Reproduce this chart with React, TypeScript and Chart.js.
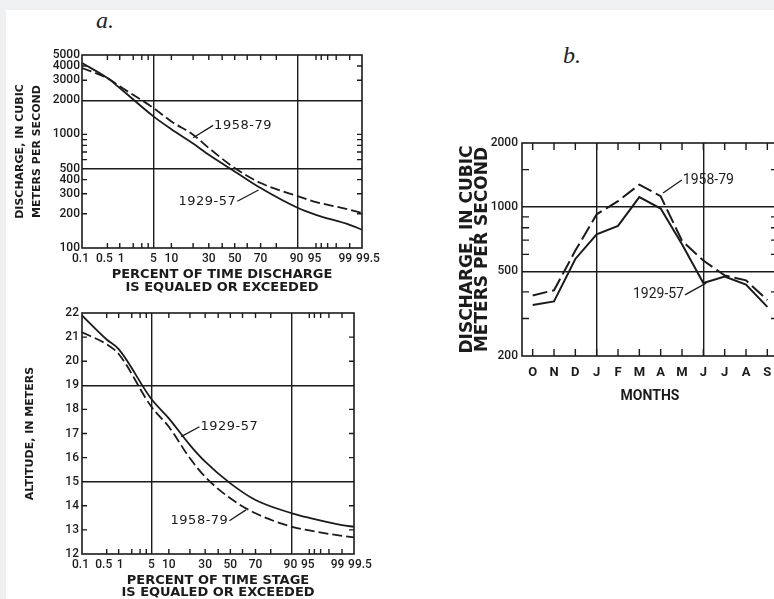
import React, { useEffect, useRef } from 'react';
import { Chart, Scale, registerables } from 'chart.js';

Chart.register(...registerables);

// ---------------- data ----------------
const durationPct = [0.1, 0.5, 1, 5, 10, 20, 30, 50, 70, 90, 95, 99, 99.5];
const discharge1929_57 = [4250, 3130, 2560, 1440, 1110, 830, 662, 472, 337, 225, 196, 160, 145];
const discharge1958_79 = [3840, 3130, 2650, 1710, 1300, 994, 759, 506, 373, 285, 254, 217, 203];
const stage1929_57 = [21.9, 20.9, 20.5, 18.43, 17.63, 16.52, 15.83, 14.93, 14.24, 13.69, 13.5, 13.2, 13.13];
const stage1958_79 = [21.2, 20.7, 20.3, 18.11, 17.28, 15.97, 15.2, 14.31, 13.69, 13.13, 12.98, 12.75, 12.69];
const months = ['O', 'N', 'D', 'J', 'F', 'M', 'A', 'M', 'J', 'J', 'A', 'S'];
const monthly1929_57 = [347, 361, 571, 746, 816, 1115, 985, 670, 440, 472, 433, 340];
const monthly1958_79 = [385, 407, 625, 925, 1067, 1276, 1125, 695, 561, 478, 453, 366];

const pctTickLabels = [0.1, 0.5, 1, 5, 10, 30, 50, 70, 90, 95, 99, 99.5];
// label text per tick (spaces nudge crowded labels apart, as in the original print)
const pctTickText: Record<string, string> = { '0.1': '0.1 ', '0.5': '0.5  ', '1': ' 1', '90': '90 ', '95': '95 ', '99': '99   ', '99.5': '    99.5' };
const pctMinorTicks = [0.5, 1, 2, 3, 4, 10, 20, 30, 40, 50, 60, 70, 80, 95, 96, 97, 98, 99];
const pctGridLines = [5, 90];
const dischargeTickLabels = [100, 200, 300, 400, 500, 1000, 2000, 3000, 4000, 5000];
const dischargeMinorTicks = [200, 300, 400, 600, 700, 800, 900, 1000, 3000, 4000];
const dischargeGridLines = [500, 2000];
const altitudeTickLabels = [12, 13, 14, 15, 16, 17, 18, 19, 20, 21, 22];
const altitudeMinorTicks = [13, 14, 16, 17, 18, 20, 21];
const altitudeGridLines = [15, 19];
const monthlyTickLabels = [200, 500, 1000, 2000];
const monthlyMinorTicks = [300, 400, 600, 700, 800, 900, 1500];
const monthlyGridLines = [500, 1000];
const monthGridIndex = [3, 8];

const dischargeNotes = [
  { text: '1958-79', x: 33.1, y: 1200, align: 'left', to: [20.0, 935] },
  { text: '1929-57', x: 52.1, y: 258, align: 'right', to: [68.5, 324] },
];
const stageNotes = [
  { text: '1929-57', x: 26.0, y: 17.28, align: 'left', to: [15.3, 16.87] },
  { text: '1958-79', x: 49.2, y: 13.38, align: 'right', to: [62.8, 13.83] },
];
const monthlyNotes = [
  { text: '1958-79', x: 6.99, y: 1340, align: 'left', to: [6.11, 1164] },
  { text: '1929-57', x: 7.14, y: 387, align: 'right', to: [8.13, 440] },
];

// ---------------- helpers ----------------
const INK = '#1b1b1b';
const CLEAR = 'rgba(0,0,0,0)';
const SANS = "'DejaVu Sans', 'Liberation Sans', sans-serif";
const NARROW = "Roboto, 'Liberation Sans', sans-serif";

function probit(p: number): number {
  const a = [-3.969683028665376e1, 2.209460984245205e2, -2.759285104469687e2, 1.38357751867269e2, -3.066479806614716e1, 2.506628277459239];
  const b = [-5.447609879822406e1, 1.615858368580409e2, -1.556989798598866e2, 6.680131188771972e1, -1.328068155288572e1];
  const c = [-7.784894002430293e-3, -3.223964580411365e-1, -2.400758277161838, -2.549732539343734, 4.374664141464968, 2.938163982698783];
  const d = [7.784695709041462e-3, 3.224671290700398e-1, 2.445134137142996, 3.754408661907416];
  const pl = 0.02425;
  if (p < pl) {
    const q = Math.sqrt(-2 * Math.log(p));
    return (((((c[0] * q + c[1]) * q + c[2]) * q + c[3]) * q + c[4]) * q + c[5]) / ((((d[0] * q + d[1]) * q + d[2]) * q + d[3]) * q + 1);
  }
  if (p <= 1 - pl) {
    const q = p - 0.5;
    const r = q * q;
    return ((((((a[0] * r + a[1]) * r + a[2]) * r + a[3]) * r + a[4]) * r + a[5]) * q) / (((((b[0] * r + b[1]) * r + b[2]) * r + b[3]) * r + b[4]) * r + 1);
  }
  const q = Math.sqrt(-2 * Math.log(1 - p));
  return -(((((c[0] * q + c[1]) * q + c[2]) * q + c[3]) * q + c[4]) * q + c[5]) / ((((d[0] * q + d[1]) * q + d[2]) * q + d[3]) * q + 1);
}

function normCdf(z: number): number {
  const t = 1 / (1 + 0.3275911 * Math.abs(z) / Math.SQRT2);
  const y = 1 - (((((1.061405429 * t - 1.453152027) * t) + 1.421413741) * t - 0.284496736) * t + 0.254829592) * t * Math.exp(-(z * z) / 2);
  return z >= 0 ? (1 + y) / 2 : (1 - y) / 2;
}

// Normal-probability axis (values in percent)
class ProbitScale extends (Scale as any) {
  static id = 'probit';
  static defaults = {};
  determineDataLimits() {
    this.min = this.options.min;
    this.max = this.options.max;
  }
  buildTicks() {
    return (this.options.tickValues || []).map((v: number) => ({ value: v }));
  }
  configure() {
    super.configure();
    this._zMin = probit(this.min / 100);
    this._zMax = probit(this.max / 100);
  }
  getLabelForValue(v: number) {
    return String(v);
  }
  getPixelForValue(v: number) {
    return this.getPixelForDecimal((probit(v / 100) - this._zMin) / (this._zMax - this._zMin));
  }
  getValueForPixel(px: number) {
    const dec = this.getDecimalForPixel(px);
    return normCdf(this._zMin + dec * (this._zMax - this._zMin)) * 100;
  }
}
Chart.register(ProbitScale as any);

function framePlugin(cfg: any) {
  return {
    id: 'frameTicks',
    afterDraw(chart: any) {
      const { ctx, chartArea: a, scales } = chart;
      const xs = scales.x;
      const ys = scales.y;
      ctx.save();
      ctx.strokeStyle = INK;
      ctx.lineWidth = cfg.frameWidth;
      ctx.strokeRect(a.left, a.top, a.right - a.left, a.bottom - a.top);
      ctx.lineWidth = cfg.tickWidth;
      ctx.beginPath();
      for (const v of cfg.xTicks) {
        const px = xs.getPixelForValue(v);
        ctx.moveTo(px, a.top);
        ctx.lineTo(px, a.top + cfg.tickLen);
        ctx.moveTo(px, a.bottom);
        ctx.lineTo(px, a.bottom - cfg.tickLen);
      }
      for (const v of cfg.yTicks) {
        const py = ys.getPixelForValue(v);
        ctx.moveTo(a.left, py);
        ctx.lineTo(a.left + cfg.tickLen, py);
        ctx.moveTo(a.right, py);
        ctx.lineTo(a.right - cfg.tickLen, py);
      }
      ctx.stroke();
      ctx.fillStyle = INK;
      ctx.font = cfg.noteFont;
      ctx.textBaseline = 'middle';
      (ctx as any).letterSpacing = cfg.noteSpacing || '0px';
      ctx.lineWidth = 1.3;
      for (const n of cfg.notes) {
        const tx = xs.getPixelForValue(n.x);
        const ty = ys.getPixelForValue(n.y);
        const ex = xs.getPixelForValue(n.to[0]);
        const ey = ys.getPixelForValue(n.to[1]);
        ctx.beginPath();
        ctx.moveTo(tx, ty);
        ctx.lineTo(ex, ey);
        ctx.stroke();
        ctx.textAlign = n.align;
        ctx.fillText(n.text, n.align === 'left' ? tx + 1 : tx - 1, ty);
      }
      ctx.restore();
    },
  };
}

function lineSet(label: string, xs: any[], ys: number[], dash: number[], width: number, smooth: boolean) {
  return {
    label,
    data: xs.map((x, i) => ({ x, y: ys[i] })),
    borderColor: INK,
    borderWidth: width,
    borderDash: dash,
    pointRadius: 0,
    fill: false,
    tension: smooth ? 0.4 : 0,
    cubicInterpolationMode: smooth ? 'monotone' : 'default',
  };
}

const gridFor = (vals: number[]) => (ctx: any) => (ctx.tick && vals.includes(ctx.tick.value) ? INK : CLEAR);
const pctLabel = (v: number) => pctTickText[String(v)] ?? String(v);
const tickFont = { family: NARROW, size: 12, weight: '500' };

function configA1(): any {
  return {
    type: 'line',
    data: {
      datasets: [
        lineSet('1929-57', durationPct, discharge1929_57, [], 1.8, true),
        lineSet('1958-79', durationPct, discharge1958_79, [10, 4], 1.8, true),
      ],
    },
    options: {
      animation: false,
      responsive: false,
      events: [],
      layout: { padding: { left: 0, top: 15, right: 23, bottom: 5 } },
      plugins: { legend: { display: false }, tooltip: { enabled: false } },
      scales: {
        x: {
          type: 'probit',
          min: 0.1,
          max: 99.5,
          tickValues: pctTickLabels,
          afterFit: (s: any) => { s.height = 47; },
          border: { display: false },
          grid: { color: gridFor(pctGridLines), lineWidth: 1.4, drawTicks: false },
          ticks: { autoSkip: false, maxRotation: 0, padding: 4, color: INK, font: tickFont, callback: pctLabel },
          title: { display: true, text: ['PERCENT OF TIME DISCHARGE', 'IS EQUALED OR EXCEEDED'], color: INK, font: { family: SANS, size: 13, weight: 'bold', lineHeight: 1 }, padding: { top: 0, bottom: 0.5 } },
        },
        y: {
          type: 'logarithmic',
          min: 100,
          max: 5000,
          afterBuildTicks: (s: any) => { s.ticks = dischargeTickLabels.map((v) => ({ value: v })); },
          afterFit: (s: any) => { s.width = 82; },
          border: { display: false },
          grid: { color: gridFor(dischargeGridLines), lineWidth: 1.4, drawTicks: false },
          ticks: { autoSkip: false, padding: 2, color: INK, font: tickFont, callback: (v: number) => String(v) },
          title: { display: true, text: ['DISCHARGE, IN CUBIC', 'METERS PER SECOND'], color: INK, font: { family: SANS, size: 11, weight: 'bold', lineHeight: 1.52 }, padding: { top: 11.6, bottom: 0 } },
        },
      },
    },
    plugins: [framePlugin({ frameWidth: 1.6, tickWidth: 1.4, tickLen: 5, xTicks: pctMinorTicks, yTicks: dischargeMinorTicks, notes: dischargeNotes, noteFont: `13px ${SANS}`, noteSpacing: '0.5px' })],
  };
}

function configA2(): any {
  return {
    type: 'line',
    data: {
      datasets: [
        lineSet('1929-57', durationPct, stage1929_57, [], 1.8, true),
        lineSet('1958-79', durationPct, stage1958_79, [10, 4], 1.8, true),
      ],
    },
    options: {
      animation: false,
      responsive: false,
      events: [],
      layout: { padding: { left: 0, top: 13, right: 26, bottom: 0 } },
      plugins: { legend: { display: false }, tooltip: { enabled: false } },
      scales: {
        x: {
          type: 'probit',
          min: 0.1,
          max: 99.5,
          tickValues: pctTickLabels,
          afterFit: (s: any) => { s.height = 45; },
          border: { display: false },
          grid: { color: gridFor(pctGridLines), lineWidth: 1.4, drawTicks: false },
          ticks: { autoSkip: false, maxRotation: 0, padding: 4, color: INK, font: tickFont, callback: pctLabel },
          title: { display: true, text: ['PERCENT OF TIME STAGE', 'IS EQUALED OR EXCEEDED'], color: INK, font: { family: SANS, size: 13, weight: 'bold', lineHeight: 0.92 }, padding: { top: 0, bottom: 0 } },
        },
        y: {
          type: 'linear',
          min: 12,
          max: 22,
          afterBuildTicks: (s: any) => { s.ticks = altitudeTickLabels.map((v) => ({ value: v })); },
          afterFit: (s: any) => { s.width = 82; },
          border: { display: false },
          grid: { color: gridFor(altitudeGridLines), lineWidth: 1.4, drawTicks: false },
          ticks: { autoSkip: false, padding: 3, color: INK, font: tickFont, callback: (v: number) => String(v) },
          title: { display: true, text: 'ALTITUDE, IN METERS', color: INK, font: { family: SANS, size: 11, weight: 'bold', lineHeight: 1.27 }, padding: { top: 23, bottom: 0 } },
        },
      },
    },
    plugins: [framePlugin({ frameWidth: 1.6, tickWidth: 1.4, tickLen: 5, xTicks: pctMinorTicks, yTicks: altitudeMinorTicks, notes: stageNotes, noteFont: `13px ${SANS}`, noteSpacing: '0.5px' })],
  };
}

function configB(): any {
  return {
    type: 'line',
    data: {
      labels: months,
      datasets: [
        lineSet('1929-57', months.map((_, i) => i), monthly1929_57, [], 2, false),
        lineSet('1958-79', months.map((_, i) => i), monthly1958_79, [15, 5], 2, false),
      ],
    },
    options: {
      animation: false,
      responsive: false,
      events: [],
      layout: { padding: { left: 0, top: 113, right: 32, bottom: 24 } },
      plugins: { legend: { display: false }, tooltip: { enabled: false } },
      scales: {
        x: {
          type: 'category',
          offset: true,
          afterFit: (s: any) => { s.height = 50; },
          border: { display: false },
          grid: { offset: false, color: (ctx: any) => (monthGridIndex.includes(ctx.index) ? INK : CLEAR), lineWidth: 1.4, drawTicks: false },
          ticks: { autoSkip: false, maxRotation: 0, padding: 9, color: INK, font: { family: NARROW, size: 13, weight: 'bold' } },
          title: { display: true, text: 'MONTHS', color: INK, font: { family: NARROW, size: 14, weight: 'bold', lineHeight: 1 }, padding: { top: 0, bottom: 3 } },
        },
        y: {
          type: 'logarithmic',
          min: 200,
          max: 2000,
          afterBuildTicks: (s: any) => { s.ticks = monthlyTickLabels.map((v) => ({ value: v })); },
          afterFit: (s: any) => { s.width = 92; },
          border: { display: false },
          grid: { color: gridFor(monthlyGridLines), lineWidth: 1.4, drawTicks: false },
          ticks: { autoSkip: false, padding: 4, color: INK, font: { family: NARROW, size: 12, weight: '500' }, callback: (v: number) => String(v) },
          title: { display: true, text: ['DISCHARGE, IN CUBIC', 'METERS PER SECOND'], color: INK, font: { family: SANS, size: 17, weight: 'bold', lineHeight: 0.86 }, padding: { top: 30.7, bottom: 0 } },
        },
      },
    },
    plugins: [framePlugin({ frameWidth: 1.6, tickWidth: 1.4, tickLen: 7, xTicks: months.map((_, i) => i), yTicks: monthlyMinorTicks, notes: monthlyNotes, noteFont: `14px ${NARROW}`, noteSpacing: '0px' })],
  };
}

export default function App() {
  const r1 = useRef<HTMLCanvasElement>(null);
  const r2 = useRef<HTMLCanvasElement>(null);
  const r3 = useRef<HTMLCanvasElement>(null);
  useEffect(() => {
    const charts = [
      new Chart(r1.current as any, configA1()),
      new Chart(r2.current as any, configA2()),
      new Chart(r3.current as any, configB()),
    ];
    return () => charts.forEach((c) => c.destroy());
  }, []);
  const serifLabel = { position: 'absolute' as const, font: "italic 24px 'Liberation Serif', 'DejaVu Serif', serif", color: '#222', lineHeight: '28px' };
  return (
    <div style={{ position: 'absolute', left: 0, top: 0, width: 774, height: 599, background: '#eff0f2', overflow: 'hidden' }}>
      <div style={{ position: 'absolute', left: 6, top: 10, right: 0, bottom: 0, background: '#ffffff' }} />
      <div style={{ ...serifLabel, left: 96, top: 6 }}>a.</div>
      <div style={{ ...serifLabel, left: 563, top: 41 }}>b.</div>
      <canvas ref={r1} width={385} height={260} style={{ position: 'absolute', left: 0, top: 40, width: 385, height: 260 }} />
      <canvas ref={r2} width={380} height={299} style={{ position: 'absolute', left: 0, top: 300, width: 380, height: 299 }} />
      <div style={{ position: 'absolute', left: 430, top: 30, width: 344, height: 400, overflow: 'hidden' }}>
        <canvas ref={r3} width={380} height={400} style={{ position: 'absolute', left: 0, top: 0, width: 380, height: 400 }} />
      </div>
    </div>
  );
}
